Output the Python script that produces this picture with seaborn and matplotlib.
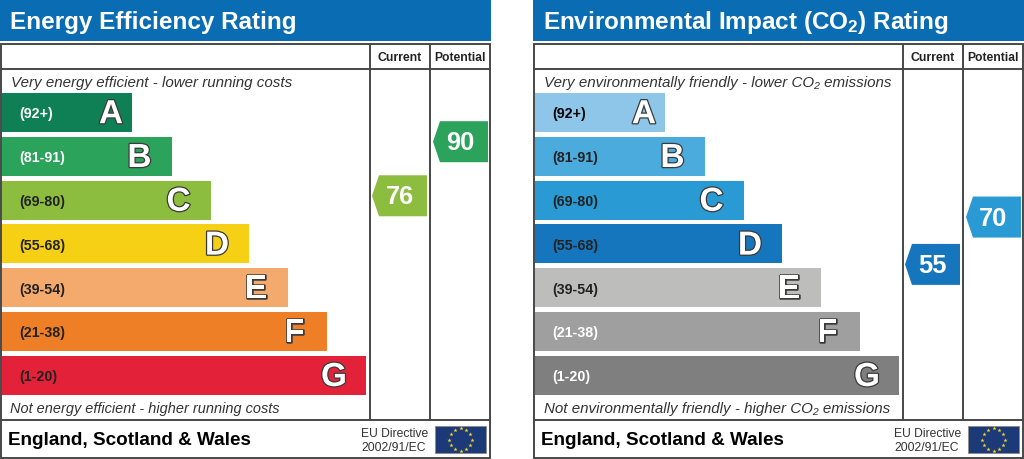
import numpy as np
import matplotlib
matplotlib.use("Agg")
import matplotlib.pyplot as plt
import matplotlib.patheffects as pe
from matplotlib.patches import Polygon, Rectangle
import seaborn as sns

bands = ["A", "B", "C", "D", "E", "F", "G"]
ranges = ["(92+)", "(81-91)", "(69-80)", "(55-68)", "(39-54)", "(21-38)", "(1-20)"]
band_high = [100, 91, 80, 68, 54, 38, 20]
band_low = [92, 81, 69, 55, 39, 21, 1]
bar_lengths = [130.5, 170, 209, 247.5, 286.5, 325, 364.5]

energy_colors = ["#0f8055", "#2ba35b", "#8dbd3f", "#f6d015", "#f4aa6c", "#ee7f26", "#e32239"]
co2_colors = ["#8dc6e8", "#4babdd", "#2a9ad4", "#1676bd", "#bdbdbb", "#9f9f9f", "#7f7f7f"]
energy_range_colors = ["white", "white", "#222222", "#222222", "#222222", "#222222", "#222222"]
co2_range_colors = ["black", "#222222", "#222222", "#222222", "#222222", "white", "white"]

energy_current = 76
energy_potential = 90
co2_current = 55
co2_potential = 70

W, H = 1024, 460
FONT = ["Liberation Sans", "DejaVu Sans"]
LINE = "#484848"
BLUE = "#0a6cb3"

sns.set_theme(style="white")
plt.rcParams["font.family"] = FONT
plt.rcParams["mathtext.fontset"] = "custom"
plt.rcParams["mathtext.bf"] = "Liberation Sans:bold"
plt.rcParams["mathtext.rm"] = "Liberation Sans"
plt.rcParams["mathtext.it"] = "Liberation Sans:italic"

fig = plt.figure(figsize=(W / 100, H / 100), dpi=100, facecolor="white")
bg = fig.add_axes([0, 0, 1, 1])
bg.set_xlim(0, W)
bg.set_ylim(H, 0)
bg.axis("off")


def find_band(score):
    for i in range(len(bands)):
        if band_low[i] <= score <= band_high[i]:
            return i


def tag(x, score, color):
    # the tag sits inside its band, according to where the score falls in the range
    i = find_band(score)
    y = 95 + 43.8 * i + 39 * (band_high[i] - score) / (band_high[i] - band_low[i])
    pts = [(x, y), (x + 7, y - 20.5), (x + 55, y - 20.5), (x + 55, y + 20.5), (x + 7, y + 20.5)]
    bg.add_patch(Polygon(pts, closed=True, fc=color, ec="none"))
    bg.text(x + 27.5, y + 0.5, str(score), color="white", fontsize=18.3, fontweight="bold",
            ha="center", va="center")


def panel(x0, title, top_note, bottom_note, bottom_size, colors, range_colors, current, potential):
    bg.add_patch(Rectangle((x0, 0), 491, 41.5, fc=BLUE, ec="none"))
    bg.text(x0 + 10, 22, title, color="white", fontsize=17.5, fontweight="bold", va="center")

    # frame and the column rules
    bg.add_patch(Rectangle((x0 + 1, 45), 489, 414, fc="none", ec=LINE, lw=1.4))
    bg.plot([x0 + 1, x0 + 490], [69.5, 69.5], color=LINE, lw=1.4)
    bg.plot([x0 + 1, x0 + 490], [420.7, 420.7], color=LINE, lw=1.4)
    bg.plot([x0 + 370.2, x0 + 370.2], [45, 420.7], color=LINE, lw=1.4)
    bg.plot([x0 + 430.2, x0 + 430.2], [45, 420.7], color=LINE, lw=1.4)

    bg.text(x0 + 399.5, 58, "Current", color="#222222", fontsize=8.8, fontweight="bold", ha="center", va="center")
    bg.text(x0 + 460, 58, "Potential", color="#222222", fontsize=8.7, fontweight="bold", ha="center", va="center")
    bg.text(x0 + 11, 83, top_note, color="#333333", fontsize=10.9, style="italic", va="center")
    bg.text(x0 + 10.5, 409, bottom_note, color="#333333", fontsize=bottom_size, style="italic", va="center")

    bg.text(x0 + 8, 440.5, "England, Scotland & Wales", color="black", fontsize=13.55, fontweight="bold", va="center")
    bg.text(x0 + 361, 434.5, "EU Directive", color="#333333", fontsize=8.7, va="center")
    bg.text(x0 + 361, 448.5, "2002/91/EC", color="#333333", fontsize=8.7, va="center")

    # flag
    bg.add_patch(Rectangle((x0 + 435, 427), 51, 27, fc="#1d3a78", ec="#8a8a8a", lw=0.6))
    a = np.arange(12) * np.pi / 6
    bg.scatter(x0 + 460.5 + 11.5 * np.cos(a), 440.5 + 11.5 * np.sin(a), marker="*", s=10, color="#f5d327", lw=0)

    tag(x0 + 372, current, colors[find_band(current)])
    tag(x0 + 433, potential, colors[find_band(potential)])

    # bars, on their own axes with x in pixels
    left = x0 + 1.5
    top = 113.5 - 0.5 * 43.8
    ax = fig.add_axes([left / W, 1 - (top + 7 * 43.8) / H, 368 / W, 7 * 43.8 / H])
    ax.patch.set_alpha(0)
    sns.barplot(x=bar_lengths, y=bands, hue=bands, palette=colors, orient="h", width=39 / 43.8,
                saturation=1, legend=False, linewidth=0, ax=ax)
    ax.set_xlim(0, 368)
    ax.set_ylim(6.5, -0.5)
    ax.axis("off")
    for i, band in enumerate(bands):
        ax.text(17.5, i + 0.02, ranges[i], color=range_colors[i], fontsize=10.3, fontweight="bold", va="center")
        off = 21 if band == "A" else 32
        ax.text(bar_lengths[i] - off, i + 0.05, band, color="white", fontsize=24, fontweight="bold",
                ha="center", va="center",
                path_effects=[pe.withStroke(linewidth=1.8, foreground="#3a3a3a")])


panel(0, "Energy Efficiency Rating", "Very energy efficient - lower running costs",
      "Not energy efficient - higher running costs", 10.45, energy_colors, energy_range_colors,
      energy_current, energy_potential)
panel(533, r"Environmental Impact (CO$\mathbf{_2}$) Rating", "Very environmentally friendly - lower CO₂ emissions",
      "Not environmentally friendly - higher CO₂ emissions", 10.9, co2_colors, co2_range_colors,
      co2_current, co2_potential)

fig.savefig("out.png", dpi=100, facecolor="white")
